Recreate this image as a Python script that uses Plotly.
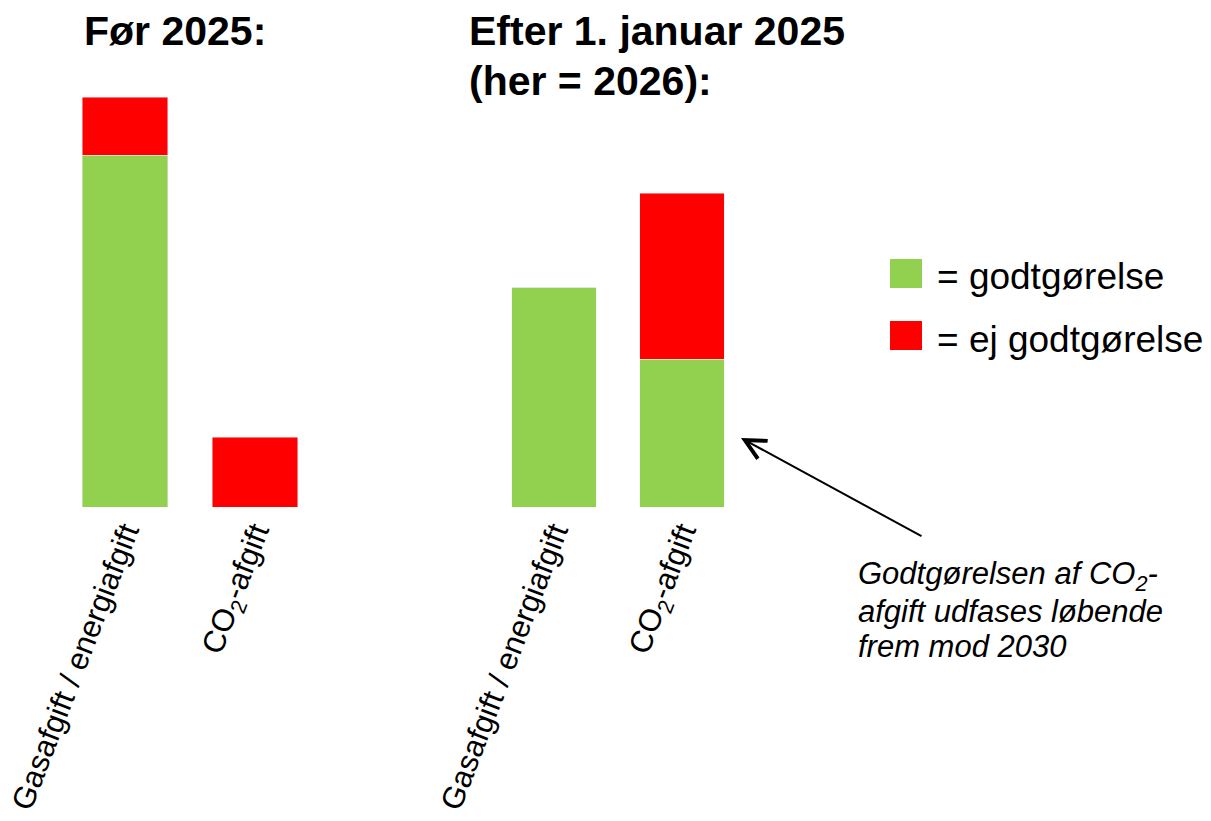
import plotly.graph_objects as go

categories = ["Gasafgift / energiafgift", "CO<sub>2</sub>-afgift"]
before_godt = [352, 0]
before_ej = [58, 70]
after_godt = [220, 148]
after_ej = [0, 166]

GREEN = "#92D050"
RED = "#FF0000"
W, H = 1211, 821
OFF = 8  # page body margin
FONT = "Liberation Sans, Arial, sans-serif"

def px(x):
    return (x - OFF) / W

def py(y):
    return 1 - (y - OFF) / H

fig = go.Figure()
fig.add_trace(go.Bar(x=categories, y=before_godt, marker_color=GREEN, xaxis="x", yaxis="y",
                     name="= godtgørelse", showlegend=False))
fig.add_trace(go.Bar(x=categories, y=before_ej, marker_color=RED, xaxis="x", yaxis="y",
                     name="= ej godtgørelse", showlegend=False))
fig.add_trace(go.Bar(x=categories, y=after_godt, marker_color=GREEN, xaxis="x2", yaxis="y2",
                     name="= godtgørelse", showlegend=False))
fig.add_trace(go.Bar(x=categories, y=after_ej, marker_color=RED, xaxis="x2", yaxis="y2",
                     name="= ej godtgørelse", showlegend=False))

ydom = [py(507), py(97)]
xcommon = dict(type="category", showline=False, showgrid=False, zeroline=False, ticks="",
               automargin=False, tickangle=-69,
               tickfont=dict(family=FONT, size=31, color="black"))
ycommon = dict(range=[0, 410], visible=False, domain=ydom, automargin=False)

fig.update_layout(
    width=W, height=H,
    margin=dict(l=0, r=0, t=0, b=0, autoexpand=False),
    paper_bgcolor="white", plot_bgcolor="white",
    barmode="stack", bargap=0.34,
    xaxis=dict(domain=[px(60), px(320)], **xcommon),
    xaxis2=dict(domain=[px(490), px(746)], anchor="y2", **xcommon),
    yaxis=dict(anchor="x", **ycommon),
    yaxis2=dict(anchor="x2", **ycommon),
    font=dict(family=FONT, color="black"),
)

ann = []
# titles
title_font = dict(family=FONT, size=41, color="black")
ann.append(dict(text="<b>Før 2025:</b>", x=px(82), y=py(6), xref="paper", yref="paper",
                xanchor="left", yanchor="top", showarrow=False, font=title_font))
ann.append(dict(text="<b>Efter 1. januar 2025</b>", x=px(467), y=py(6), xref="paper",
                yref="paper", xanchor="left", yanchor="top", showarrow=False, font=title_font))
ann.append(dict(text="<b>(her = 2026):</b>", x=px(467), y=py(56), xref="paper",
                yref="paper", xanchor="left", yanchor="top", showarrow=False, font=title_font))
# legend text
legend_font = dict(family=FONT, size=37, color="black")
ann.append(dict(text="= godtgørelse", x=px(935), y=py(277), xref="paper", yref="paper",
                xanchor="left", yanchor="middle", showarrow=False, font=legend_font))
ann.append(dict(text="= ej godtgørelse", x=px(935), y=py(339), xref="paper", yref="paper",
                xanchor="left", yanchor="middle", showarrow=False, font=legend_font))
# note lines
note_lines = ["<i>Godtgørelsen af CO<sub>2</sub>-</i>", "<i>afgift udfases løbende</i>",
              "<i>frem mod 2030</i>"]
for i, t in enumerate(note_lines):
    ann.append(dict(text=t, x=px(856), y=py(576 + 35 * i), xref="paper", yref="paper",
                    xanchor="left", yanchor="middle", showarrow=False,
                    font=dict(family=FONT, size=31, color="black")))
# arrow
ann.append(dict(text="", x=px(741), y=py(438), xref="paper", yref="paper",
                ax=923 - 741, ay=537 - 438, axref="pixel", ayref="pixel",
                showarrow=True, arrowhead=5, arrowsize=2, arrowwidth=2, arrowcolor="black"))
fig.update_layout(annotations=ann)

# legend squares
fig.add_shape(type="rect", xref="paper", yref="paper", x0=px(890), x1=px(922),
              y0=py(288), y1=py(259), fillcolor=GREEN, line=dict(width=0))
fig.add_shape(type="rect", xref="paper", yref="paper", x0=px(890), x1=px(922),
              y0=py(350), y1=py(321), fillcolor=RED, line=dict(width=0))

fig.write_html("out.html")
